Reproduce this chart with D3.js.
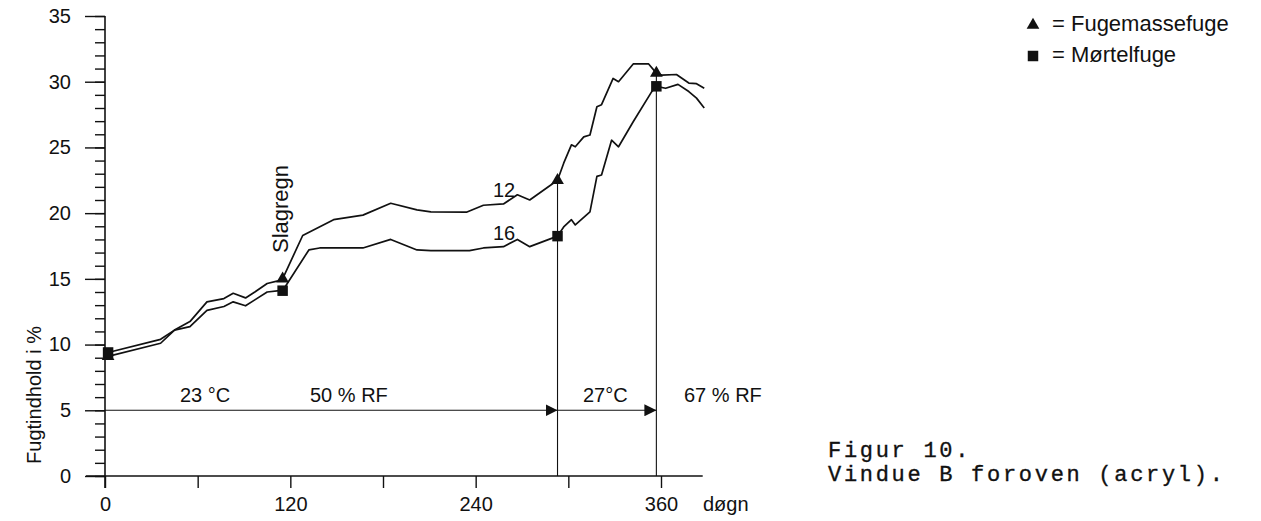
<!DOCTYPE html>
<html><head><meta charset="utf-8">
<script src="https://cdn.jsdelivr.net/npm/d3@7"></script>
<style>
html,body{margin:0;padding:0;background:#fff;}
svg{display:block;}
text{font-family:"Liberation Sans",Arial,Helvetica,sans-serif;fill:#111;}
.cap{font-family:"Liberation Mono","DejaVu Sans Mono",monospace;}
</style></head>
<body>
<script>
// ---- data ----
const fugemasseDays = [2,36,45,55,66,77,83,91,97,105,112,115,128,148,167,185,202,211,234,245,258,267,275,293,297,302,304.5,310,314,318.5,321.5,329,332.5,342,352,357,360.5,370,378,383,388];
const fugemasseVals = [9.1,10.1,11.1,11.75,13.25,13.5,13.9,13.55,14.0,14.65,14.85,15.0,18.3,19.5,19.85,20.75,20.25,20.1,20.07,20.6,20.7,21.4,21.0,22.5,23.8,25.2,25.05,25.8,25.95,28.1,28.25,30.25,30.0,31.35,31.35,30.65,30.5,30.55,29.9,29.85,29.5];
const mortelDays = [2,36,45,55,66,77,83,91,97,105,113,115,132,139,167,185,202,211,236,245,258,267,275,293,297,302,304.5,314,318.5,321.5,328,332.5,342,354,357,363,371,378,383,388];
const mortelVals = [9.4,10.4,11.1,11.36,12.6,12.9,13.25,12.95,13.4,14.0,14.1,14.1,17.2,17.35,17.35,18.0,17.2,17.15,17.15,17.35,17.45,18.0,17.45,18.25,18.95,19.5,19.1,20.1,22.8,22.9,25.55,25.05,26.95,29.25,29.65,29.5,29.8,29.25,28.75,28.0];
const fugemasseMarkerDays = [2,115,293,357];
const fugemasseMarkerVals = [9.1,15.0,22.5,30.65];
const mortelMarkerDays = [2,115,293,357];
const mortelMarkerVals = [9.4,14.1,18.25,29.65];
const yMajorTicks = [0,5,10,15,20,25,30,35];
const yMinorTicks = d3.range(0,36,1);
const xTicks = [0,60,120,180,240,300,360];
const xTickLabels = [0,120,240,360];
const phaseDays = [0,293,357];
const phaseLevel = 5;
const legendLabels = ["= Fugemassefuge","= Mørtelfuge"];
const captionLines = ["Figur 10.","Vindue B foroven (acryl)."];

// ---- drawing ----
const W=1261,H=521;
const svg=d3.select("body").append("svg").attr("width",W).attr("height",H);
const x=d3.scaleLinear().domain([0,360]).range([105,661]);
const y=d3.scaleLinear().domain([0,35]).range([476,16]);

const defs=svg.append("defs");
defs.append("marker").attr("id","arr").attr("viewBox","0 0 12 12").attr("refX",12).attr("refY",6)
  .attr("markerWidth",12).attr("markerHeight",12).attr("markerUnits","userSpaceOnUse").attr("orient","auto")
  .append("path").attr("d","M0,0L12,6L0,12Z").attr("fill","#111");

// y axis
const yAxisG=svg.append("g").attr("transform",`translate(${x(0)},0)`);
yAxisG.call(d3.axisLeft(y).tickValues(yMinorTicks).tickSize(10).tickSizeOuter(0).tickFormat(""));
yAxisG.call(g=>g.select(".domain").remove());
const yMaj=svg.append("g").attr("transform",`translate(${x(0)},0)`)
  .call(d3.axisLeft(y).tickValues(yMajorTicks).tickSize(20).tickSizeOuter(0).tickPadding(14));
yMaj.select(".domain").remove();
yMaj.selectAll("text").attr("font-size",20).attr("font-family","Liberation Sans, Arial").attr("fill","#111");
svg.selectAll(".tick line").attr("stroke","#111").attr("stroke-width",1.4);
svg.append("line").attr("x1",x(0)).attr("x2",x(0)).attr("y1",y(35)).attr("y2",y(0)+12).attr("stroke","#111").attr("stroke-width",1.6);

// x axis
const xAx=svg.append("g").attr("transform",`translate(0,${y(0)})`)
  .call(d3.axisBottom(x).tickValues(xTicks).tickSize(12).tickSizeOuter(0).tickPadding(9)
    .tickFormat(d=>xTickLabels.includes(d)?d:""));
xAx.select(".domain").remove();
xAx.selectAll("text").attr("font-size",20).attr("font-family","Liberation Sans, Arial").attr("fill","#111");
xAx.selectAll("line").attr("stroke","#111").attr("stroke-width",1.4);
svg.append("line").attr("x1",x(0)-19).attr("x2",x(387)).attr("y1",y(0)).attr("y2",y(0)).attr("stroke","#111").attr("stroke-width",1.6);
svg.append("text").attr("x",703).attr("y",511).attr("font-size",20).text("døgn");

// y label
svg.append("text").attr("transform",`translate(41,395) rotate(-90)`).attr("text-anchor","middle").attr("font-size",20).text("Fugtindhold i %");

// phase arrows at 5 %
for(let i=0;i<phaseDays.length-1;i++){
  svg.append("line").attr("x1",x(phaseDays[i])).attr("x2",x(phaseDays[i+1])).attr("y1",y(phaseLevel)).attr("y2",y(phaseLevel))
    .attr("stroke","#111").attr("stroke-width",1.1).attr("marker-end","url(#arr)");
}
// vertical lines
fugemasseMarkerDays.slice(2).forEach((d,i)=>{
  svg.append("line").attr("x1",x(d)).attr("x2",x(d)).attr("y1",y(0)).attr("y2",y(fugemasseMarkerVals[i+2]))
   .attr("stroke","#111").attr("stroke-width",1.1);
});

// curves
const line=d3.line().x(d=>x(d[0])).y(d=>y(d[1]));
svg.append("path").datum(fugemasseDays.map((d,i)=>[d,fugemasseVals[i]])).attr("d",line)
  .attr("fill","none").attr("stroke","#111").attr("stroke-width",1.7).attr("stroke-linejoin","round");
svg.append("path").datum(mortelDays.map((d,i)=>[d,mortelVals[i]])).attr("d",line)
  .attr("fill","none").attr("stroke","#111").attr("stroke-width",1.7).attr("stroke-linejoin","round");

// markers
const tri=d3.symbol().type(d3.symbolTriangle).size(70);
const sq=d3.symbol().type(d3.symbolSquare).size(110);
svg.selectAll(".tri").data(fugemasseMarkerDays.map((d,i)=>[d,fugemasseMarkerVals[i]])).join("path")
  .attr("transform",d=>`translate(${x(d[0])},${y(d[1])})`).attr("d",tri).attr("fill","#111");
svg.selectAll(".sq").data(mortelMarkerDays.map((d,i)=>[d,mortelMarkerVals[i]])).join("path")
  .attr("transform",d=>`translate(${x(d[0])},${y(d[1])})`).attr("d",sq).attr("fill","#111");

// annotations
const ann=[["23 °C",180,402],["50 % RF",310,402],["27°C",583,402],["67 % RF",684,402],["12",493,197],["16",493,240]];
ann.forEach(a=>svg.append("text").attr("x",a[1]).attr("y",a[2]).attr("font-size",20).text(a[0]));
svg.append("text").attr("transform","translate(288,253) rotate(-90)").attr("font-size",22).text("Slagregn");

// legend
svg.append("path").attr("transform","translate(1033,25)").attr("d",tri).attr("fill","#111");
svg.append("path").attr("transform","translate(1033,56)").attr("d",sq).attr("fill","#111");
legendLabels.forEach((t,i)=>svg.append("text").attr("x",1052).attr("y",31+i*31).attr("font-size",22).attr("xml:space","preserve").text(t.replace("= ","= ")));

// caption
captionLines.forEach((t,i)=>svg.append("text").attr("class","cap").attr("x",828).attr("y",457+i*24)
  .attr("font-size",22).attr("letter-spacing",2.7).attr("stroke","#111").attr("stroke-width",0.35).text(t));
</script>
</body></html>
